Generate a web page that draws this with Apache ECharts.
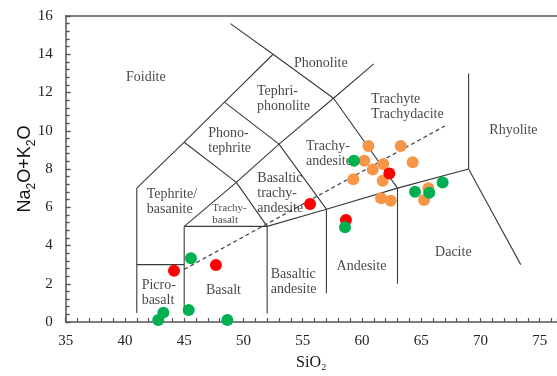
<!DOCTYPE html>
<html>
<head>
<meta charset="utf-8">
<style>
  html, body { margin: 0; padding: 0; background: #ffffff; }
  #chart { width: 557px; height: 376px; }
</style>
<script src="https://cdn.jsdelivr.net/npm/echarts@6/dist/echarts.min.js"></script>
</head>
<body>
<div id="chart"></div>
<script>
// Total alkali vs. silica (TAS) classification diagram

// Field boundaries as polylines of [SiO2, Na2O+K2O]
const boundaries = [
  [[41, 0.47], [41, 7], [45, 9.4], [48.4, 11.5], [52.5, 14]],
  [[41, 3], [45, 3]],
  [[45, 0.45], [45, 5], [52, 5], [52, 0.45]],
  [[45, 5], [49.4, 7.3], [53, 9.3], [57.6, 11.7], [61, 13.5]],
  [[45, 9.4], [49.4, 7.3], [52, 5]],
  [[48.4, 11.5], [53, 9.3], [57, 5.9]],
  [[52, 5], [57, 5.9], [63, 7], [69, 8]],
  [[57, 1.5], [57, 5.9]],
  [[63, 2], [63, 7]],
  [[69, 8], [69, 13]],
  [[69, 8], [73.4, 3.0]],
  [[48.9, 15.6], [52.5, 14], [57.6, 11.7], [63, 7]]
];

// Alkaline / subalkaline dividing line
const alkalineDivide = [[45, 2.75], [67, 10.25]];

// Field names: [left SiO2, centre Na2O+K2O, text]
const fieldNames = [
  [40.09, 12.77, 'Foidite'],
  [54.27, 13.53, 'Phonolite'],
  [51.14, 11.68, 'Tephri-\nphonolite'],
  [47.03, 9.47, 'Phono-\ntephrite'],
  [41.84, 6.29, 'Tephrite/\nbasanite'],
  [51.17, 6.73, 'Basaltic\ntrachy-\nandesite'],
  [55.28, 8.77, 'Trachy-\nandesite'],
  [60.77, 11.25, 'Trachyte\nTrachydacite'],
  [70.75, 10.04, 'Rhyolite'],
  [66.17, 3.62, 'Dacite'],
  [57.86, 2.93, 'Andesite'],
  [52.3, 2.12, 'Basaltic\nandesite'],
  [46.84, 1.64, 'Basalt'],
  [41.41, 1.52, 'Picro-\nbasalt']
];
const smallFieldNames = [
  [47.37, 5.64, 'Trachy-\nbasalt']
];

// Sample analyses [SiO2, Na2O+K2O]
const orangeSamples = [
  [60.54, 9.20], [63.27, 9.20], [60.2, 8.43], [61.80, 8.26], [64.28, 8.35],
  [60.91, 7.98], [59.27, 7.46], [61.75, 7.39], [65.6, 6.99], [65.24, 6.38],
  [61.61, 6.47], [62.43, 6.34]
];
const redSamples = [
  [44.14, 2.68], [47.68, 2.98], [55.62, 6.17], [62.31, 7.77], [58.65, 5.33]
];
const greenSamples = [
  [45.57, 3.33], [43.24, 0.49], [42.81, 0.10], [45.38, 0.63], [48.64, 0.10],
  [59.33, 8.43], [66.81, 7.30], [64.48, 6.81], [65.68, 6.76], [58.57, 4.95]
];

// Axis ranges and tick labels
const xRange = [35, 76.46];
const yRange = [0, 16];
const xLabelStep = 5;

const SERIF = 'Liberation Serif';
const SANS = 'Liberation Sans';
const FRAME = '#555555';
const EDGE = '#3a3a3a';
const INK = '#151515';

const chart = echarts.init(document.getElementById('chart'), null, { renderer: 'canvas' });

const series = [];

boundaries.forEach(function (line) {
  series.push({
    type: 'line', data: line, symbol: 'none', silent: true, z: 2,
    lineStyle: { color: EDGE, width: 1.1 }
  });
});

series.push({
  type: 'line', data: alkalineDivide, symbol: 'none', silent: true, z: 2,
  lineStyle: { color: '#4a4a4a', width: 1.3, type: [4, 3] }
});

function nameSeries(list, size, lh) {
  return {
    type: 'scatter', symbolSize: 0, silent: true, z: 3,
    data: list.map(function (d) { return { value: [d[0], d[1]], name: d[2] }; }),
    label: {
      show: true, position: 'inside', align: 'left', verticalAlign: 'middle',
      formatter: function (p) { return p.name; },
      fontFamily: SERIF, fontSize: size, lineHeight: lh, color: INK
    }
  };
}
series.push(nameSeries(fieldNames, 14, 15));
series.push(nameSeries(smallFieldNames, 11, 12));

function sampleSeries(data, color, z) {
  return {
    type: 'scatter', data: data, symbol: 'circle', symbolSize: 12, z: z,
    itemStyle: { color: color, opacity: 1 }
  };
}
series.push(sampleSeries(orangeSamples, '#F79646', 4));
series.push(sampleSeries(redSamples, '#FF0000', 5));
series.push(sampleSeries(greenSamples, '#00B050', 6));

chart.setOption({
  animation: false,
  backgroundColor: '#ffffff',
  grid: { left: 65.7, right: 0, top: 16, bottom: 54, containLabel: false, outerBoundsMode: 'none' },
  xAxis: [{
    type: 'value', min: xRange[0], max: xRange[1], interval: 1, position: 'bottom',
    axisLine: { show: true, onZero: false, lineStyle: { color: FRAME, width: 1.5 } },
    axisTick: { show: true, inside: true, length: 4, lineStyle: { color: FRAME, width: 1.2 } },
    axisLabel: {
      margin: 12, fontFamily: SERIF, fontSize: 15, color: '#222',
      formatter: function (v) { return (Math.abs(v % xLabelStep) < 1e-9) ? String(v) : ''; }
    },
    splitLine: { show: false },
    name: 'SiO\u2082', nameLocation: 'middle', nameGap: 33, nameMoveOverlap: false,
    nameTextStyle: { fontFamily: SERIF, fontSize: 16, color: INK }
  }, {
    type: 'value', min: xRange[0], max: xRange[1], position: 'top',
    axisLine: { show: true, onZero: false, lineStyle: { color: FRAME, width: 1.5 } },
    axisTick: { show: false }, axisLabel: { show: false }, splitLine: { show: false }
  }],
  yAxis: {
    type: 'value', min: yRange[0], max: yRange[1], interval: 2,
    axisLine: { show: true, onZero: false, lineStyle: { color: FRAME, width: 1.5 } },
    axisTick: { show: true, inside: true, length: 5, lineStyle: { color: FRAME, width: 1.4 } },
    minorTick: { show: true, splitNumber: 5, length: 4, lineStyle: { color: FRAME, width: 1.4 } },
    axisLabel: { margin: 13, fontFamily: SERIF, fontSize: 15, color: '#222' },
    splitLine: { show: false },
    name: '{ym|Na}{ys|2}{ym|O+K}{ys|2}{ym|O}', nameLocation: 'middle', nameGap: 28, nameMoveOverlap: false,
    nameTextStyle: {
      fontFamily: SANS, fontSize: 18, color: INK,
      rich: {
        ym: { fontFamily: SANS, fontSize: 18, lineHeight: 26 },
        ys: { fontFamily: SANS, fontSize: 12, lineHeight: 12, verticalAlign: 'bottom' }
      }
    }
  },
  series: series
});
</script>
</body>
</html>
